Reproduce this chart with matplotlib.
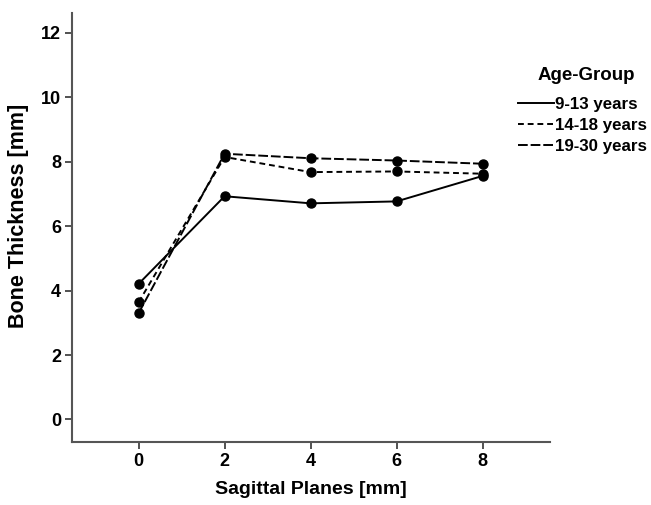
import matplotlib
matplotlib.use("Agg")
import matplotlib.pyplot as plt

plt.rcParams['font.family'] = ['Liberation Sans', 'DejaVu Sans']
plt.rcParams['font.weight'] = 'bold'

planes = [0, 2, 4, 6, 8]
group_labels = ["9-13 years", "14-18 years", "19-30 years"]
g9_13 = [4.21, 6.93, 6.71, 6.77, 7.56]
g14_18 = [3.64, 8.15, 7.68, 7.70, 7.63]
g19_30 = [3.30, 8.25, 8.11, 8.04, 7.94]
yticks = [0, 2, 4, 6, 8, 10, 12]
xticks = [0, 2, 4, 6, 8]

fig = plt.figure(figsize=(6.51, 5.05), dpi=100)
ax = fig.add_axes([72/651, 1-442/505, (550-72)/651, (442-13)/505])

styles = [dict(linestyle='-'), dict(linestyle=(0, (3, 2))), dict(linestyle=(0, (5, 1.5)))]
for vals, lab, st in zip([g9_13, g14_18, g19_30], group_labels, styles):
    ax.plot(planes, vals, color='black', lw=1.4, marker='o', markersize=6.5, label=lab, **st)

ax.set_xlim(-1.55, 9.57)
ax.set_ylim(-0.7, 12.62)
ax.set_xticks(xticks)
ax.set_yticks(yticks)
for s in ['top', 'right']:
    ax.spines[s].set_visible(False)
for s in ['left', 'bottom']:
    ax.spines[s].set_color('#555555')
    ax.spines[s].set_linewidth(1.5)
ax.tick_params(direction='out', length=5, width=1.2, color='#333333', labelsize=13, pad=3)
for t in ax.get_xticklabels() + ax.get_yticklabels():
    t.set_fontweight('bold')
ax.set_xlabel("Sagittal Planes [mm]", fontsize=14, fontweight='bold')
ax.set_ylabel("Bone Thickness [mm]", fontsize=15.5, fontweight='bold')
ax.yaxis.set_label_coords((19-72)/478, (442-216)/429)
ax.xaxis.set_label_coords(0.5, -(489-442)/429)
ax.xaxis.label.set_va('center')
ax.yaxis.label.set_va('center')

fig.text(586/651, 1-75/505, "Age-Group", ha='center', va='center',
         fontsize=13.5, fontweight='bold')
leg = fig.legend(loc='upper left', bbox_to_anchor=(518/651, 1-97/505), frameon=False,
                 handlelength=2.1, handletextpad=0.1, labelspacing=0.36, borderpad=0,
                 borderaxespad=0, prop={'weight': 'bold', 'size': 12.2})
for h in leg.legend_handles:
    h.set_marker('')

fig.savefig("out.png", dpi=100)
